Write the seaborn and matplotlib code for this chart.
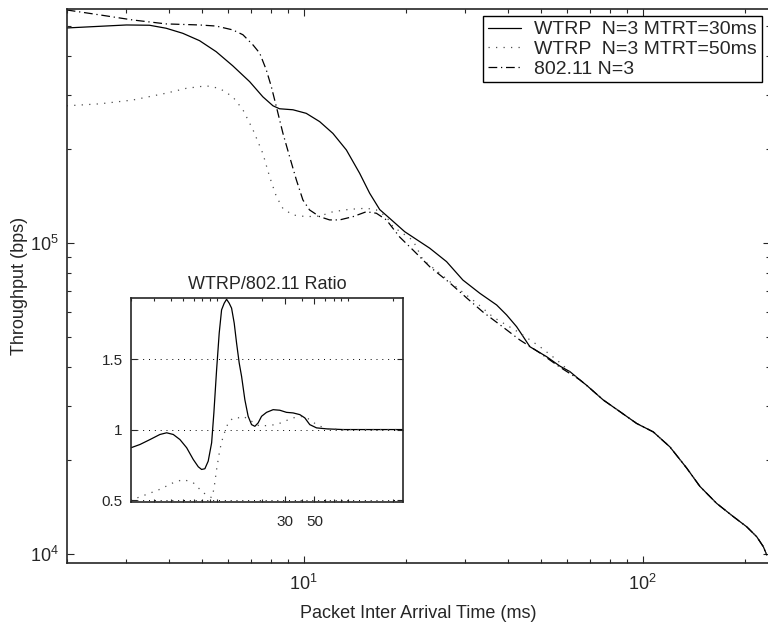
import numpy as np
import pandas as pd
import seaborn as sns
import matplotlib
matplotlib.use('Agg')
import matplotlib.pyplot as plt
from matplotlib.ticker import NullFormatter, FixedLocator, LogLocator

###############################
######### data ################
###############################
# main plot: throughput (bps) vs packet inter arrival time (ms)
x_wtrp30 = [2.0, 3.0, 3.51, 3.93, 4.40, 4.93, 5.52, 6.18, 6.93, 7.58, 8.12, 8.49, 9.30,
            10.18, 11.15, 12.2, 13.37, 14.63, 15.66, 16.77, 17.94, 19.87, 23.55, 26.4,
            29.5, 33.1, 37.1, 39.7, 42.5, 46.5, 52.1, 57.0, 61.0, 65.3, 68.3, 76.5,
            85.7, 96, 107.5, 120.4, 134.9, 147.6, 165.4, 185.1, 202.8, 217.1, 227.1,
            232.4]
y_wtrp30 = [491e3, 502e3, 501e3, 490e3, 472e3, 447e3, 412e3, 371e3, 330e3, 295e3,
            276e3, 270e3, 268e3, 261e3, 245.5e3, 225e3, 199e3, 167.5e3, 144.5e3, 128e3,
            120e3, 108.7e3, 96.2e3, 87.1e3, 76e3, 68.9e3, 63.2e3, 58.7e3, 53.8e3,
            46.4e3, 43.1e3, 40.2e3, 38.6e3, 36.3e3, 34.9e3, 31.3e3, 28.7e3, 26.3e3,
            24.7e3, 22.1e3, 18.9e3, 16.5e3, 14.55e3, 13.2e3, 12.24e3, 11.37e3,
            10.56e3, 9.93e3]

x_wtrp50 = [2.0, 2.50, 3.13, 3.93, 4.50, 5.16, 5.65, 6.18, 6.62, 7.09, 7.58, 7.94,
            8.31, 8.69, 9.30, 10.18, 11.15, 12.2, 13.67, 15.31, 16.39, 17.55, 18.35,
            21.0, 22.5, 25.2, 28.9, 32.4, 36.2, 43.4, 49.8, 55.8, 61.0, 65.3, 68.3,
            76.5, 85.7, 96, 107.5, 120.4, 134.9, 147.6, 165.4, 185.1, 202.8, 217.1,
            227.1, 232.4]
y_wtrp50 = [276e3, 280e3, 288e3, 303e3, 314e3, 320e3, 314e3, 295e3, 268e3, 231e3,
            194e3, 163e3, 141e3, 129e3, 123e3, 121.5e3, 122e3, 126e3, 128.3e3, 129.3e3,
            127.7e3, 121.5e3, 112.8e3, 102e3, 88.2e3, 80e3, 70.6e3, 64.1e3, 57.8e3,
            51.4e3, 46.4e3, 42.1e3, 38.6e3, 36.3e3, 34.9e3, 31.3e3, 28.7e3, 26.3e3,
            24.7e3, 22.1e3, 18.9e3, 16.5e3, 14.55e3, 13.2e3, 12.24e3, 11.37e3,
            10.56e3, 9.93e3]

x_80211 = [2.0, 2.50, 3.13, 3.93, 4.93, 5.52, 6.18, 6.62, 7.09, 7.42, 7.76, 8.03,
           8.31, 8.69, 9.09, 9.52, 9.95, 10.41, 11.15, 11.93, 12.77, 13.98, 15.31,
           16.39, 17.55, 19.2, 21.0, 23.6, 27.0, 30.3, 33.8, 38.7, 43.4, 49.8, 57.0,
           65.3, 68.3, 76.5, 85.7, 96, 107.5, 120.4, 134.9, 147.6, 165.4, 185.1,
           202.8, 217.1, 227.1, 232.4]
y_80211 = [561e3, 541e3, 521e3, 506e3, 502e3, 498e3, 484e3, 467e3, 433e3, 407.5e3,
           360e3, 318e3, 274e3, 225e3, 189.5e3, 159.4e3, 137.5e3, 127.7e3, 121.5e3,
           118.6e3, 118.6e3, 121.5e3, 126e3, 124.6e3, 118.6e3, 104.5e3, 95e3, 83.7e3,
           74.4e3, 66.5e3, 60e3, 53.7e3, 48.8e3, 44.3e3, 39.9e3, 36.3e3, 34.9e3,
           31.3e3, 28.7e3, 26.3e3, 24.7e3, 22.1e3, 18.9e3, 16.5e3, 14.55e3, 13.2e3,
           12.24e3, 11.37e3, 10.56e3, 9.93e3]

# inset: WTRP / 802.11 ratio
x_ratio30 = [2.0, 2.34, 2.79, 3.32, 3.74, 4.20, 4.72, 5.31, 5.96, 6.51, 6.90, 7.31,
             7.75, 8.23, 8.56, 8.98, 9.40, 9.80, 10.26, 10.70, 11.20, 11.68, 12.23,
             12.75, 13.35, 13.92, 14.74, 15.62, 16.58, 17.57, 18.61, 19.76, 21.57,
             24.21, 27.22, 30.62, 34.37, 38.65, 42.19, 46.05, 51.80, 61.71, 82.6,
             110.6, 236]
y_ratio30 = [0.871, 0.894, 0.929, 0.965, 0.977, 0.965, 0.929, 0.871, 0.788, 0.736,
             0.717, 0.722, 0.776, 0.906, 1.118, 1.424, 1.684, 1.849, 1.896, 1.924,
             1.896, 1.861, 1.755, 1.613, 1.472, 1.377, 1.212, 1.094, 1.035, 1.023,
             1.047, 1.094, 1.122, 1.141, 1.137, 1.122, 1.118, 1.106, 1.083, 1.035,
             1.012, 1.005, 1.0, 1.0, 1.0]

x_ratio50 = [2.0, 2.08, 2.63, 3.32, 4.20, 5.0, 5.96, 7.10, 8.23, 8.56, 8.98, 9.51,
             10.08, 11.0, 12.01, 13.12, 14.31, 16.58, 19.17, 22.18, 25.69, 29.65,
             34.37, 40.96, 46.05, 51.80, 61.71, 82.6, 236]
y_ratio50 = [0.49, 0.505, 0.540, 0.576, 0.623, 0.646, 0.623, 0.552, 0.517, 0.576,
             0.717, 0.859, 0.953, 1.047, 1.083, 1.083, 1.094, 1.059, 1.023, 1.030,
             1.035, 1.059, 1.083, 1.094, 1.071, 1.035, 1.005, 1.0, 1.0]

labels = ['WTRP  N=3 MTRT=30ms', 'WTRP  N=3 MTRT=50ms', '802.11 N=3']

###############################
############ plot #############
###############################
sns.set_style('ticks')
plt.rcParams['font.family'] = ['Liberation Sans', 'DejaVu Sans']
plt.rcParams['mathtext.default'] = 'regular'
plt.rcParams.update({'font.size': 13, 'xtick.labelsize': 13, 'ytick.labelsize': 13})

fig = plt.figure(figsize=(7.68, 6.4), dpi=100)
ax = fig.add_axes([66.7 / 768, 77 / 640, 703.3 / 768, 554 / 640])

solid = '-'
dotted = (0, (1, 5))
dashdot = (0, (7, 3, 1, 3))

sns.lineplot(x=x_wtrp30, y=y_wtrp30, ax=ax, color='k', lw=0.9, linestyle=solid,
             estimator=None, sort=False, label=labels[0])
sns.lineplot(x=x_wtrp50, y=y_wtrp50, ax=ax, color='0.3', lw=0.9, linestyle=dotted,
             estimator=None, sort=False, label=labels[1])
sns.lineplot(x=x_80211, y=y_80211, ax=ax, color='k', lw=0.9, linestyle=dashdot,
             estimator=None, sort=False, label=labels[2])

ax.set_xscale('log')
ax.set_yscale('log')
ax.set_xlim(2, 237.6)
ax.set_ylim(9.36e3, 565e3)
ax.tick_params(which='both', direction='in', top=True, right=True, width=0.8)
ax.tick_params(which='major', length=5, pad=6)
ax.tick_params(axis='x', pad=8)
ax.tick_params(which='minor', length=3)
ax.xaxis.set_minor_formatter(NullFormatter())
ax.yaxis.set_minor_formatter(NullFormatter())
for s in ax.spines.values():
    s.set_linewidth(1.2)
ax.set_xlabel('Packet Inter Arrival Time (ms)', fontsize=13, labelpad=8)
ax.set_ylabel('Throughput (bps)', fontsize=13, labelpad=1)

leg = ax.legend(loc='upper right', bbox_to_anchor=(0.9886, 0.9874), borderaxespad=0,
                fancybox=False, edgecolor='k', framealpha=1, fontsize=14,
                handlelength=1.7, handletextpad=0.7, labelspacing=0.1, borderpad=0.25)
leg.get_frame().set_linewidth(1.0)

##### inset #######
axi = fig.add_axes([131 / 768, 137.7 / 640, 272.3 / 768, 204 / 640])
sns.lineplot(x=x_ratio30, y=y_ratio30, ax=axi, color='k', lw=0.9, linestyle=solid,
             estimator=None, sort=False)
sns.lineplot(x=x_ratio50, y=y_ratio50, ax=axi, color='0.3', lw=0.9, linestyle=dotted,
             estimator=None, sort=False)
axi.set_xscale('log')
axi.set_xlim(2, 237.6)
axi.set_ylim(0.484, 1.931)
axi.xaxis.set_major_locator(FixedLocator([30, 50]))
axi.xaxis.set_minor_locator(LogLocator(base=10, subs=np.arange(2, 10)))
axi.set_xticklabels(['30', '50'])
axi.xaxis.set_minor_formatter(NullFormatter())
axi.set_yticks([0.5, 1, 1.5])
axi.set_yticklabels(['0.5', '1', '1.5'])
axi.yaxis.grid(True, linestyle=(0, (1, 5)), color='k', lw=0.7)
axi.tick_params(which='both', direction='in', top=True, right=True, labelsize=11, width=0.8)
axi.tick_params(which='major', length=4, pad=6)
axi.tick_params(which='minor', length=2.5)
axi.tick_params(axis='x', pad=9)
for s in axi.spines.values():
    s.set_linewidth(1.2)
axi.set_xlabel('')
axi.set_ylabel('')
axi.set_title('WTRP/802.11 Ratio', fontsize=13, pad=7)

fig.savefig('out.png', dpi=100)
